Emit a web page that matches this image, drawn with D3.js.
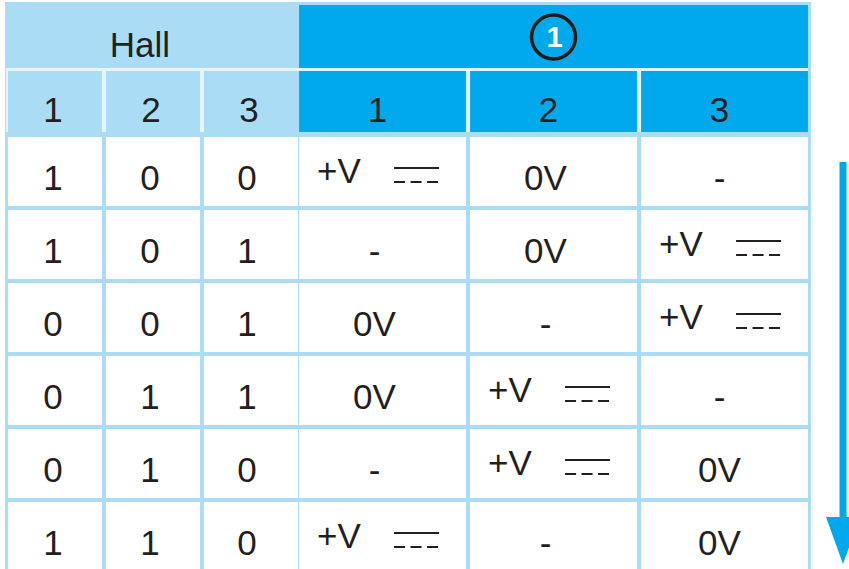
<!DOCTYPE html>
<html>
<head>
<meta charset="utf-8">
<script src="https://cdn.jsdelivr.net/npm/d3@7"></script>
<style>
  html, body { margin: 0; padding: 0; background: #fff; }
  svg { display: block; }
  text { font-family: "Liberation Sans", Arial, Helvetica, sans-serif; fill: #231f20; }
</style>
</head>
<body>
<script>
// table data: hall sensor states and the drive level on each phase of motor 1
const hallCols  = ['1', '2', '3'];
const phaseCols = ['1', '2', '3'];
const hall1 = ['1', '1', '0', '0', '0', '1'];
const hall2 = ['0', '0', '0', '1', '1', '1'];
const hall3 = ['0', '1', '1', '1', '0', '0'];
const phase1 = ['+V', '-', '0V', '0V', '-', '+V'];
const phase2 = ['0V', '0V', '-', '+V', '+V', '-'];
const phase3 = ['-', '+V', '+V', '-', '0V', '0V'];

const W = 849, H = 569;
const lightC = '#abdcf5';   // hall header + grid lines
const gapC   = '#e6f5fd';   // thin separators inside the header
const darkC  = '#00a9ec';   // motor header + arrow

const svg = d3.select('body').append('svg')
  .attr('width', W).attr('height', H);

// column scales (two groups with different widths)
const xHall = d3.scaleBand().domain(hallCols).range([6, 300])
  .paddingInner(0.04).paddingOuter(0.02);
const xPhase = d3.scaleBand().domain(phaseCols).range([297, 810])
  .paddingInner(0.024).paddingOuter(0.012);
// data rows
const yRow = d3.scaleBand().domain(d3.range(hall1.length)).range([135, 573])
  .paddingInner(4 / 73).paddingOuter(2 / 73);

const hallLeft = xHall(hallCols[0]) - 2;
const hallRight = xHall(hallCols[2]) + xHall.bandwidth();
const phLeft = xPhase(phaseCols[0]);
const phRight = xPhase(phaseCols[2]) + xPhase.bandwidth();

// grid background (the light blue lines are the gaps between white cells)
svg.append('rect').attr('x', hallLeft - 1).attr('y', 2)
  .attr('width', phRight + 3 - hallLeft + 1).attr('height', H)
  .attr('fill', lightC);
svg.append('rect').attr('x', hallLeft).attr('y', 68)
  .attr('width', phRight - hallLeft).attr('height', 64)
  .attr('fill', gapC);

// header row 1
const h1 = { y: 3, h: 65 }, h2 = { y: 71, h: 61 };
svg.append('rect').attr('x', hallLeft).attr('y', h1.y)
  .attr('width', hallRight + 1 - hallLeft).attr('height', h1.h).attr('fill', lightC);
svg.append('rect').attr('x', phLeft).attr('y', h1.y + 2)
  .attr('width', phRight - phLeft).attr('height', h1.h - 2).attr('fill', darkC);

svg.append('text').attr('x', (hallLeft + hallRight) / 2 - 12).attr('y', 57)
  .attr('text-anchor', 'middle').attr('font-size', 35).text('Hall');

const cx1 = (phLeft + phRight) / 2, cy1 = 37;
svg.append('circle').attr('cx', cx1).attr('cy', cy1).attr('r', 22)
  .attr('fill', 'none').attr('stroke', '#1b1b1b').attr('stroke-width', 3.5);
svg.append('text').attr('x', cx1 + 1).attr('y', cy1 + 10)
  .attr('text-anchor', 'middle').attr('font-size', 29).attr('font-weight', 'bold')
  .style('fill', '#fff').text('1');

// header row 2
svg.selectAll('.hh').data(hallCols).join('rect')
  .attr('x', d => xHall(d)).attr('y', h2.y)
  .attr('width', d => d === '3' ? hallRight + 1 - xHall(d) : xHall.bandwidth())
  .attr('height', h2.h).attr('fill', lightC);
svg.selectAll('.ph').data(phaseCols).join('rect')
  .attr('x', d => xPhase(d)).attr('y', h2.y)
  .attr('width', xPhase.bandwidth()).attr('height', h2.h).attr('fill', darkC);

svg.selectAll('.hht').data(hallCols).join('text')
  .attr('x', d => xHall(d) + xHall.bandwidth() / 2 - 2).attr('y', 122)
  .attr('text-anchor', 'middle').attr('font-size', 35).text(d => d);
svg.selectAll('.pht').data(phaseCols).join('text')
  .attr('x', d => xPhase(d) + xPhase.bandwidth() / 2 - 5).attr('y', 122)
  .attr('text-anchor', 'middle').attr('font-size', 35).text(d => d);

// data cells
const cols = [
  { x: xHall, key: '1', vals: hall1, bw: xHall.bandwidth(), dx: -2 },
  { x: xHall, key: '2', vals: hall2, bw: xHall.bandwidth(), dx: -3 },
  { x: xHall, key: '3', vals: hall3, bw: xHall.bandwidth(), dx: -4 },
  { x: xPhase, key: '1', vals: phase1, bw: xPhase.bandwidth(), dx: -8 },
  { x: xPhase, key: '2', vals: phase2, bw: xPhase.bandwidth(), dx: -8 },
  { x: xPhase, key: '3', vals: phase3, bw: xPhase.bandwidth(), dx: -5 }
];

const cells = [];
cols.forEach(c => c.vals.forEach((v, i) => cells.push({
  x0: c.x(c.key), w: c.bw, dx: c.dx, row: i, v: v
})));

const g = svg.selectAll('.cell').data(cells).join('g')
  .attr('transform', d => `translate(${d.x0},${yRow(d.row)})`);

g.append('rect').attr('width', d => d.w).attr('height', yRow.bandwidth())
  .attr('fill', '#fff');

// plain values
g.filter(d => d.v !== '+V').append('text')
  .attr('x', d => d.w / 2 + d.dx).attr('y', 53)
  .attr('text-anchor', 'middle').attr('font-size', 35).text(d => d.v);

// +V with the DC symbol
const pv = g.filter(d => d.v === '+V');
pv.append('text').attr('x', 18).attr('y', 46)
  .attr('font-size', 35).text(d => d.v);
pv.append('line').attr('x1', 95).attr('x2', 140).attr('y1', 31).attr('y2', 31)
  .attr('stroke', '#231f20').attr('stroke-width', 2);
pv.append('line').attr('x1', 95).attr('x2', 140).attr('y1', 45).attr('y2', 45)
  .attr('stroke', '#231f20').attr('stroke-width', 2)
  .attr('stroke-dasharray', '11,5.5');

// sequence arrow at the right
const ax = 843;
svg.append('line').attr('x1', ax).attr('x2', ax)
  .attr('y1', 162).attr('y2', 520)
  .attr('stroke', darkC).attr('stroke-width', 7);
svg.append('path')
  .attr('d', d3.line()([[ax - 17, 517], [ax + 17, 517], [ax, 564]]) + 'Z')
  .attr('fill', darkC);
</script>
</body>
</html>
